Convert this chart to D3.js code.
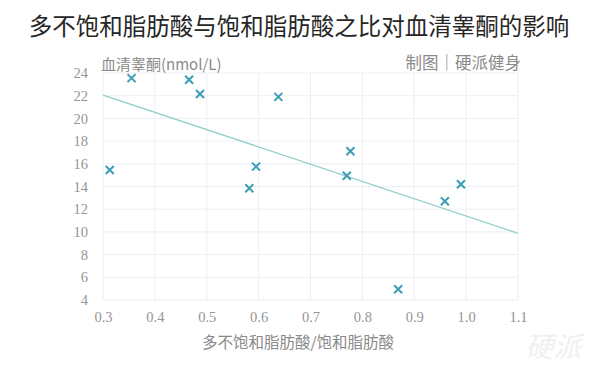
<!DOCTYPE html>
<html>
<head>
<meta charset="utf-8">
<script src="https://cdn.jsdelivr.net/npm/d3@7"></script>
<style>
body { margin: 0; background: #fff; }
svg { display: block; font-family: "Noto Sans CJK SC", "Noto Sans", sans-serif; }
</style>
</head>
<body>
<svg id="chart" width="600" height="372"></svg>
<script>
'use strict';
// values
const ratio = [0.313, 0.355, 0.466, 0.487, 0.638, 0.595, 0.582, 0.777, 0.770, 0.990, 0.959, 0.869];
const testosterone = [15.45, 23.55, 23.4, 22.15, 21.9, 15.75, 13.85, 17.1, 14.95, 14.2, 12.7, 4.95];
const trendX = [0.3, 1.1];
const trendY = [22.06, 9.88];
const xTicks = [0.3, 0.4, 0.5, 0.6, 0.7, 0.8, 0.9, 1.0, 1.1];
const yTicks = [4, 6, 8, 10, 12, 14, 16, 18, 20, 22, 24];

const title = "多不饱和脂肪酸与饱和脂肪酸之比对血清睾酮的影响";
const yTitle = "血清睾酮(nmol/L)";
const xTitle = "多不饱和脂肪酸/饱和脂肪酸";
const credit = "制图｜硬派健身";

const svg = d3.select("#chart");
const x = d3.scaleLinear().domain([0.3, 1.1]).range([103, 518]);
const y = d3.scaleLinear().domain([4, 24]).range([300, 73]);

// gridlines
svg.append("g").selectAll("line").data(xTicks).enter().append("line")
    .attr("x1", d => x(d)).attr("x2", d => x(d))
    .attr("y1", y(24)).attr("y2", y(4))
    .attr("stroke", "#eceef4").attr("stroke-width", 1);
svg.append("g").selectAll("line").data(yTicks).enter().append("line")
    .attr("x1", x(0.3)).attr("x2", x(1.1))
    .attr("y1", d => y(d)).attr("y2", d => y(d))
    .attr("stroke", "#eceef4").attr("stroke-width", 1);

// axes (labels only)
const xAxis = svg.append("g")
    .attr("transform", `translate(0,${y(4)})`)
    .call(d3.axisBottom(x).tickValues(xTicks).tickFormat(d3.format(".1f")).tickSize(0).tickPadding(12));
const yAxis = svg.append("g")
    .attr("transform", `translate(${x(0.3)},0)`)
    .call(d3.axisLeft(y).tickValues(yTicks).tickSize(0).tickPadding(15));
[xAxis, yAxis].forEach(a => {
    a.select(".domain").remove();
    a.selectAll("text")
        .attr("fill", "#959595")
        .style("font-family", "'Liberation Serif', 'DejaVu Serif', serif")
        .style("font-size", "14.5px");
});

// trend line
svg.append("path")
    .datum(d3.zip(trendX, trendY))
    .attr("fill", "none")
    .attr("stroke", "#8fcfc9")
    .attr("stroke-width", 1.3)
    .attr("d", d3.line().x(d => x(d[0])).y(d => y(d[1])));

// markers
const pts = d3.zip(ratio, testosterone);
const s = 4;
svg.append("g").selectAll("path").data(pts).enter().append("path")
    .attr("d", d => {
        const px = x(d[0]), py = y(d[1]);
        return `M${px-s},${py-s}L${px+s},${py+s}M${px-s},${py+s}L${px+s},${py-s}`;
    })
    .attr("stroke", "#3a9eb4")
    .attr("stroke-width", 2)
    .attr("fill", "none");

// texts
svg.append("text")
    .attr("x", 299).attr("y", 35)
    .attr("text-anchor", "middle")
    .attr("fill", "#262626")
    .style("font-size", "23.5px")
    .text(title);
svg.append("text")
    .attr("x", 101).attr("y", 70)
    .attr("fill", "#8a8a8a")
    .style("font-size", "15px")
    .text(yTitle);
svg.append("text")
    .attr("x", 521).attr("y", 69)
    .attr("text-anchor", "end")
    .attr("fill", "#8a8a8a")
    .style("font-size", "16.5px")
    .text(credit);
svg.append("text")
    .attr("x", 298).attr("y", 348)
    .attr("text-anchor", "middle")
    .attr("fill", "#8a8a8a")
    .style("font-size", "15.5px")
    .text(xTitle);
// faint watermark
svg.append("text")
    .attr("x", 554).attr("y", 357)
    .attr("text-anchor", "middle")
    .attr("fill", "#f0f0f0")
    .attr("transform", "skewX(-15) translate(95,0)")
    .style("font-size", "28px")
    .text("硬派");
</script>
</body>
</html>
